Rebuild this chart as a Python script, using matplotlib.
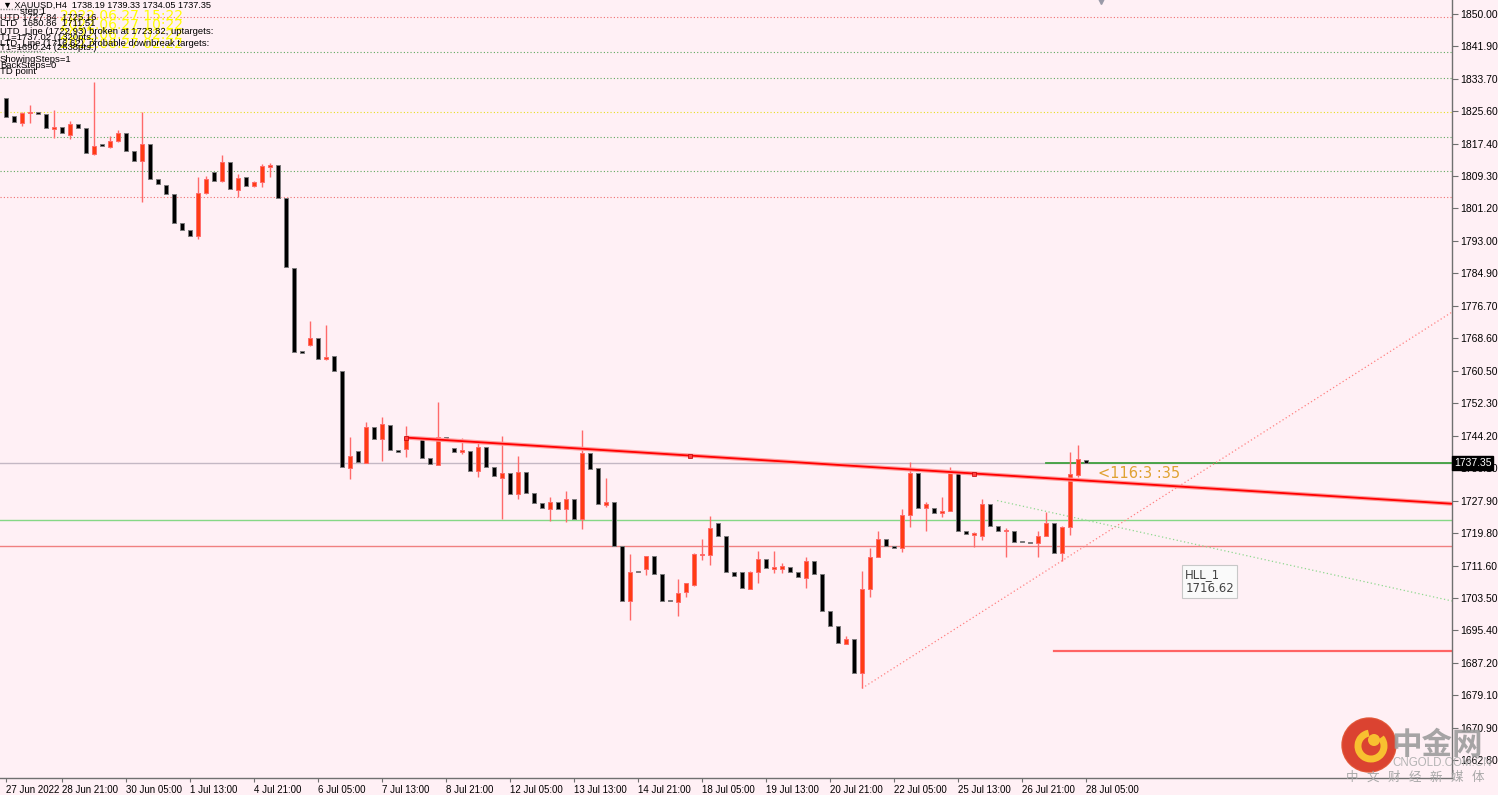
import matplotlib
matplotlib.use('Agg')
import matplotlib.pyplot as plt
import matplotlib.patches as mpatches
from matplotlib.transforms import IdentityTransform
import numpy as np

plt.rcParams['font.family'] = ['Liberation Sans', 'DejaVu Sans']

# XAUUSD H4 bars, left to right
opens = [1828.84, 1824.40, 1822.65, 1825.08, 1825.48, 1824.98, 1821.22, 1821.57, 1819.64, 1822.40,
         1821.32, 1814.79, 1817.00, 1816.62, 1818.21, 1820.06, 1815.62, 1813.19, 1817.30, 1808.59,
         1807.09, 1804.76, 1797.55, 1795.72, 1794.29, 1805.00, 1810.27, 1808.17, 1812.78, 1805.83,
         1809.02, 1806.84, 1807.92, 1811.68, 1812.03, 1803.75, 1786.18, 1765.36, 1767.01, 1768.62,
         1763.35, 1764.10, 1760.41, 1736.15, 1740.34, 1737.40, 1746.36, 1743.27, 1746.86, 1740.51,
         1740.76, 1743.50, 1743.27, 1738.50, 1736.82, 1743.78, 1741.02, 1740.02, 1740.41, 1735.32,
         1741.27, 1736.25, 1733.49, 1734.74, 1729.47, 1734.99, 1729.72, 1727.37, 1725.79, 1727.47,
         1725.71, 1728.22, 1723.35, 1739.76, 1735.99, 1726.79, 1727.47, 1716.57, 1702.62, 1710.00,
         1710.80, 1713.98, 1709.47, 1702.70, 1702.37, 1704.88, 1706.64, 1714.24, 1714.32, 1722.19,
         1719.00, 1709.90, 1709.90, 1705.78, 1709.90, 1713.31, 1710.85, 1710.80, 1711.15, 1709.90,
         1708.39, 1712.81, 1709.47, 1700.19, 1696.50, 1692.03, 1693.09, 1684.56, 1705.83, 1713.81,
         1718.13, 1716.62, 1715.92, 1724.28, 1734.74, 1726.11, 1725.96, 1724.70, 1725.28, 1734.89,
         1720.26, 1719.18, 1719.00, 1727.04, 1721.52, 1720.22, 1720.26, 1717.47, 1717.43, 1717.18,
         1719.00, 1722.19, 1714.67, 1721.34, 1734.32, 1738.19]
highs = [1829.60, 1824.60, 1825.41, 1827.16, 1825.60, 1825.10, 1825.91, 1821.70, 1823.23, 1822.50,
         1821.40, 1833.01, 1817.10, 1819.46, 1820.89, 1820.20, 1815.70, 1825.33, 1817.40, 1808.70,
         1807.20, 1804.90, 1797.70, 1795.80, 1809.02, 1809.35, 1810.40, 1814.54, 1812.90, 1809.85,
         1809.10, 1808.00, 1812.36, 1812.53, 1812.10, 1803.80, 1786.30, 1765.50, 1773.04, 1768.70,
         1771.96, 1764.20, 1760.50, 1743.93, 1740.40, 1747.69, 1746.40, 1748.79, 1746.90, 1740.60,
         1746.69, 1744.00, 1743.40, 1738.60, 1752.56, 1743.90, 1741.10, 1743.52, 1740.50, 1742.67,
         1741.40, 1736.30, 1744.18, 1734.80, 1739.16, 1735.10, 1729.80, 1727.50, 1728.72, 1727.60,
         1730.38, 1728.30, 1745.61, 1739.90, 1736.10, 1733.49, 1727.60, 1716.70, 1714.49, 1710.10,
         1714.10, 1714.10, 1709.60, 1702.80, 1708.22, 1707.20, 1714.70, 1718.26, 1724.03, 1722.30,
         1719.10, 1710.00, 1710.00, 1710.10, 1715.24, 1713.40, 1715.24, 1712.15, 1711.20, 1710.00,
         1713.81, 1712.90, 1709.60, 1700.30, 1696.60, 1693.92, 1693.20, 1710.22, 1716.00, 1720.26,
         1718.20, 1716.70, 1725.71, 1737.50, 1734.80, 1727.62, 1726.10, 1728.87, 1736.40, 1735.00,
         1720.30, 1720.00, 1728.29, 1727.10, 1721.60, 1721.09, 1720.30, 1717.50, 1717.50, 1720.26,
         1725.11, 1722.30, 1721.40, 1740.18, 1741.85, 1739.33]
lows = [1823.80, 1822.60, 1821.90, 1822.65, 1824.80, 1821.20, 1818.88, 1819.90, 1818.56, 1821.20,
        1814.90, 1814.60, 1816.70, 1816.45, 1817.96, 1815.50, 1813.00, 1802.90, 1808.40, 1807.20,
        1804.70, 1797.50, 1795.60, 1794.20, 1793.46, 1804.75, 1808.00, 1807.92, 1805.90, 1804.00,
        1806.80, 1806.60, 1806.66, 1809.02, 1803.60, 1786.30, 1765.00, 1764.50, 1766.69, 1763.30,
        1763.20, 1760.40, 1736.10, 1733.31, 1737.40, 1737.30, 1743.30, 1737.90, 1740.50, 1740.00,
        1738.91, 1742.90, 1738.40, 1736.90, 1736.70, 1742.80, 1740.10, 1739.59, 1735.20, 1733.74,
        1736.10, 1734.00, 1723.20, 1729.40, 1728.22, 1729.60, 1727.10, 1726.00, 1722.77, 1725.70,
        1722.45, 1723.20, 1720.69, 1735.60, 1726.90, 1726.20, 1716.40, 1702.60, 1697.92, 1709.70,
        1709.22, 1709.30, 1702.50, 1702.50, 1699.01, 1703.63, 1706.40, 1712.99, 1711.81, 1719.00,
        1709.80, 1708.90, 1705.80, 1705.70, 1707.29, 1710.90, 1709.65, 1709.65, 1709.80, 1708.50,
        1706.03, 1709.40, 1700.10, 1696.40, 1692.00, 1691.90, 1684.40, 1680.79, 1703.70, 1713.70,
        1716.50, 1715.80, 1714.92, 1721.34, 1726.00, 1720.34, 1724.60, 1723.70, 1725.20, 1720.10,
        1719.30, 1716.17, 1717.99, 1721.40, 1720.10, 1713.66, 1717.30, 1717.30, 1717.10, 1713.66,
        1718.90, 1714.70, 1712.80, 1719.26, 1733.89, 1734.05]
closes = [1824.23, 1822.90, 1825.16, 1825.48, 1824.98, 1821.32, 1821.57, 1820.06, 1822.40, 1821.32,
          1815.04, 1816.95, 1816.95, 1818.13, 1820.06, 1815.69, 1813.19, 1817.30, 1808.59, 1807.34,
          1804.83, 1797.63, 1795.72, 1794.37, 1805.00, 1808.59, 1808.17, 1812.86, 1806.01, 1808.85,
          1806.91, 1807.77, 1811.86, 1812.11, 1803.75, 1786.43, 1765.10, 1764.86, 1768.62, 1763.43,
          1764.00, 1760.49, 1736.25, 1739.08, 1737.50, 1746.36, 1743.42, 1747.11, 1740.59, 1740.09,
          1743.78, 1743.30, 1738.50, 1737.00, 1743.78, 1742.92, 1740.17, 1740.59, 1735.32, 1741.27,
          1736.25, 1734.14, 1734.74, 1729.55, 1734.99, 1729.72, 1727.22, 1726.11, 1727.47, 1725.79,
          1728.22, 1723.35, 1739.76, 1735.74, 1727.04, 1727.47, 1716.57, 1702.77, 1709.90, 1709.85,
          1713.98, 1709.47, 1702.62, 1702.62, 1704.78, 1707.14, 1714.42, 1714.49, 1721.02, 1719.08,
          1709.90, 1709.05, 1705.96, 1710.05, 1713.16, 1711.05, 1710.90, 1711.48, 1709.90, 1708.64,
          1712.81, 1709.47, 1700.19, 1696.50, 1692.16, 1693.09, 1684.56, 1705.83, 1713.86, 1718.13,
          1716.62, 1715.92, 1724.28, 1734.74, 1726.11, 1727.04, 1724.70, 1725.28, 1734.89, 1720.26,
          1719.43, 1719.68, 1727.04, 1721.52, 1720.26, 1720.26, 1717.43, 1717.43, 1717.18, 1719.00,
          1722.19, 1714.82, 1721.34, 1734.57, 1738.26, 1737.35]

xtick_bars = [0, 7, 15, 23, 31, 39, 47, 55, 63, 71, 79, 87, 95, 103, 111, 119, 127, 135]
xtick_labels = ['27 Jun 2022', '28 Jun 21:00', '30 Jun 05:00', '1 Jul 13:00', '4 Jul 21:00',
                '6 Jul 05:00', '7 Jul 13:00', '8 Jul 21:00', '12 Jul 05:00', '13 Jul 13:00',
                '14 Jul 21:00', '18 Jul 05:00', '19 Jul 13:00', '20 Jul 21:00', '22 Jul 05:00',
                '25 Jul 13:00', '26 Jul 21:00', '28 Jul 05:00']
ytick_vals = [1850.00, 1841.90, 1833.70, 1825.60, 1817.40, 1809.30, 1801.20, 1793.00, 1784.90,
              1776.70, 1768.60, 1760.50, 1752.30, 1744.20, 1736.10, 1727.90, 1719.80, 1711.60,
              1703.50, 1695.40, 1687.20, 1679.10, 1670.90, 1662.80]

# horizontal dotted levels (price, colour)
dotted_levels = [1849.32, 1840.54, 1834.06, 1825.53, 1819.06, 1810.60, 1804.00]
dotted_colors = ['#f07070', '#60a860', '#60a860', '#e8e020', '#60a860', '#60a860', '#f07070']

bid = 1737.35
utd_level = 1723.00
hll_level = 1716.62
t1_down = 1690.24

# trend lines: (bar, price) pairs
red_trend = [(50, 1743.7), (180.75, 1727.1)]
pink_trend = [(107, 1680.79), (180.75, 1775.2)]
green_trend = [(123.9, 1727.9), (180.75, 1702.7)]

W, H = 1498, 795
fig = plt.figure(figsize=(W / 100, H / 100), dpi=100)
fig.patch.set_facecolor('#fff0f5')
ax = fig.add_axes([0, 17 / H, 1452 / W, 778 / H])
ax.set_facecolor('#fff0f5')
ax.set_xlim(-0.75, 180.75)
ax.set_ylim(1658.28, 1853.51)

for lv, c in zip(dotted_levels, dotted_colors):
    ax.axhline(lv, color=c, lw=0.8, ls=(0, (1, 2)), zorder=1)

ax.axhline(bid, color='#c4b8c4', lw=1, zorder=1)
ax.axhline(utd_level, color='#86d886', lw=1, zorder=1)
ax.axhline(hll_level, color='#f08080', lw=1, zorder=1)
ax.plot([130, 180.75], [bid, bid], color='#3fa03f', lw=1.3, zorder=2)
ax.plot([131, 180.75], [t1_down, t1_down], color='#ff6464', lw=1.6, zorder=2)

px_, py_ = zip(*pink_trend)
ax.plot(px_, py_, color='#ff8080', lw=0.9, ls=(0, (1, 2)), zorder=2)
gx_, gy_ = zip(*green_trend)
ax.plot(gx_, gy_, color='#90d890', lw=0.9, ls=(0, (1, 2)), zorder=2)

# candles (bear wicks are not shown on this chart, only the bull ones)
o = np.array(opens); h = np.array(highs); l = np.array(lows); c = np.array(closes)
idx = np.arange(len(o))
up = c > o
ax.vlines(idx[up], l[up], h[up], color='#ff6a6a', lw=1, zorder=3)
body_lo = np.minimum(o, c)
body_h = np.maximum(np.abs(c - o), 0.3)
ax.bar(idx[up], body_h[up], 0.62, bottom=body_lo[up], color='#ff3c14',
       edgecolor='#ff6a6a', lw=0.7, zorder=4)
ax.bar(idx[~up], body_h[~up], 0.62, bottom=body_lo[~up], color='#000000',
       edgecolor='#7a7a7a', lw=0.7, zorder=4)

# main red trend line with its light halo and anchor squares
rx, ry = zip(*red_trend)
ax.plot(rx, ry, color='#ff9c9c', lw=3, zorder=5, solid_capstyle='butt')
ax.plot(rx, ry, color='#ff0000', lw=1.3, zorder=6)
for b in [50, 85.5, 121]:
    yv = np.interp(b, rx, ry)
    ax.plot(b, yv, 's', ms=2.5, mfc='#ff4040', mec='#c00000', mew=0.5, zorder=7)

ax.text(136.5, 1734.6, '<116:3 :35', color='#e0a232', fontsize=10.5, va='center', ha='left',
        family='DejaVu Sans', zorder=8)
ax.text(147.4, 1707.6, 'HLL_1\n1716.62', color='#444444', fontsize=8.5, va='center', ha='left',
        family='DejaVu Sans', linespacing=1.15, zorder=8,
        bbox=dict(boxstyle='square,pad=0.25', fc='#fafafa', ec='#c8c8c8', lw=0.8))
ax.plot(136.9, 1853.2, marker='v', ms=4, color='#9a9aa8', clip_on=False, zorder=8)

# axes
for s in ['left', 'top']:
    ax.spines[s].set_visible(False)
for s in ['right', 'bottom']:
    ax.spines[s].set_color('#707070')
    ax.spines[s].set_linewidth(1)
ax.yaxis.tick_right()
ax.set_yticks(ytick_vals)
ax.set_yticklabels([f'{v:.2f}' for v in ytick_vals])
ax.set_xticks(xtick_bars)
ax.set_xticklabels(xtick_labels, ha='left')
ax.tick_params(axis='y', direction='out', length=4, width=0.8, color='#707070', labelsize=7.5, pad=2)
ax.tick_params(axis='x', direction='out', length=3, width=0.8, color='#707070', labelsize=7, pad=2)


def fx(x):
    return x / W


def fy(y):
    return 1 - y / H


# current price label
fig.text(fx(1454), fy(463), '1737.35', color='white', fontsize=7.5, va='center', ha='left',
         bbox=dict(boxstyle='square,pad=0.15', fc='black', ec='black'))

# indicator text block, top left
yellow = [('2022.06.27 15:22', 16), ('2022.06.27 10:22', 25), ('2022.06.27 02:22', 35),
          ('2022.06.27 02:22', 44)]
for t, yy in yellow:
    fig.text(fx(60), fy(yy), t, color='#ffff00', fontsize=10, va='center', ha='left',
             family='DejaVu Sans')
fig.text(fx(3), fy(5), '\u25bc XAUUSD,H4  1738.19 1739.33 1734.05 1737.35', fontsize=6.6,
         va='center', ha='left', family=['Liberation Sans', 'DejaVu Sans'])
info = [('step 1', 20, 11), ('UTD 1727.84  1725.16', 0, 17), ('LTD  1680.86  1711.51', 0, 24),
        ('UTD_Line (1722.93) broken at 1723.82, uptargets:', 0, 31),
        ('T1=1737.02 (1320pts.)', 0, 37),
        ('LTD_Line (1716.62), probable downbreak targets:', 0, 43.5),
        ('T1=1690.24 (2638pts.)', 0, 48), ('ShowingSteps=1', 0, 60), ('BackSteps=0', 0, 66),
        ('TD point', 0, 71.5)]
for t, xx, yy in info:
    fig.text(fx(xx), fy(yy), t, fontsize=6.8, va='center', ha='left')
fig.add_artist(plt.Line2D([0, fx(42)], [fy(8.5), fy(8.5)], color='#8a8a8a', lw=1, ls=(0, (1, 1))))
fig.add_artist(plt.Line2D([0, fx(42)], [fy(51), fy(51)], color='#8a8a8a', lw=1, ls=(0, (1, 1))))

# watermark logo
circ = mpatches.Circle((1369, H - 745), 27, transform=IdentityTransform(), fc='#d8301c',
                       ec='#e05030', lw=1, alpha=0.9)
fig.add_artist(circ)
arc = mpatches.Arc((1371, H - 746), 26, 26, theta1=100, theta2=400, transform=IdentityTransform(),
                   color='#f8c030', lw=5)
fig.add_artist(arc)
dot = mpatches.Circle((1374, H - 740), 6, transform=IdentityTransform(), fc='#f8c030', ec='none')
fig.add_artist(dot)
fig.text(fx(1391), fy(745), '中金网', color='#9c9c9c', fontsize=22, fontweight='bold',
         va='center', ha='left', family=['Noto Sans CJK SC', 'DejaVu Sans'], alpha=0.9)
fig.text(fx(1392), fy(763), 'CNGOLD.COM.CN', color='#b4b4b4', fontsize=8.3, va='center', ha='left')
for k, ch in enumerate('中文财经新媒体'):
    fig.text(fx(1352 + 21 * k), fy(777), ch, color='#a8a8a8', fontsize=9, va='center',
             ha='center', family=['Noto Sans CJK SC', 'DejaVu Sans'])

fig.savefig('out.png', dpi=100, facecolor=fig.get_facecolor())
